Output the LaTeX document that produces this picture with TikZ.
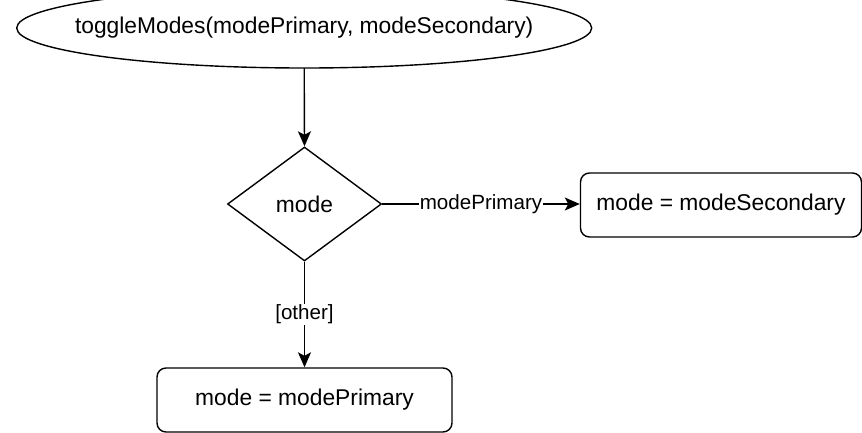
\documentclass[tikz,border=0pt]{standalone}
\usepackage{fontspec}
\setmainfont{Liberation Sans}
\usetikzlibrary{shapes.geometric,arrows.meta}
\begin{document}
\begin{tikzpicture}[x=1pt,y=-1pt,
  shape line/.style={draw=black,line width=1.4pt},
  maintext/.style={font=\fontsize{22.8}{26}\selectfont},
  lbltext/.style={font=\fontsize{20.6}{24}\selectfont,fill=white,inner sep=1pt},
  decision/.style={shape line,maintext,diamond,minimum width=154pt,minimum height=114pt,inner sep=0pt,aspect=1.35},
  action/.style={shape line,maintext,rectangle,rounded corners=9pt,minimum height=64pt,inner sep=0pt},
  flow/.style={line width=1.4pt,-{Stealth[length=15pt,width=13pt,inset=3.5pt]}}]
\useasboundingbox (0,0) rectangle (862,432);
\node[maintext,inner sep=0pt] (start) at (304.2,28) {toggleModes(modePrimary, modeSecondary)};
\draw[shape line] (start.center) ellipse [x radius=287.5pt, y radius=40pt];
\coordinate (startbot) at (304.2,68);
\node[decision] (dec) at (304.5,204) {mode};
\node[action,minimum width=281pt] (sec) at (721,205) {mode = modeSecondary};
\node[action,minimum width=295pt] (prim) at (304.5,400) {mode = modePrimary};
\draw[flow] (startbot) -- (dec.north);
\draw[flow] (dec.east) -- node[lbltext] {modePrimary} (dec.east -| sec.west);
\draw[flow] (dec.south) -- node[lbltext] {[other]} (prim.north);
\end{tikzpicture}
\end{document}
